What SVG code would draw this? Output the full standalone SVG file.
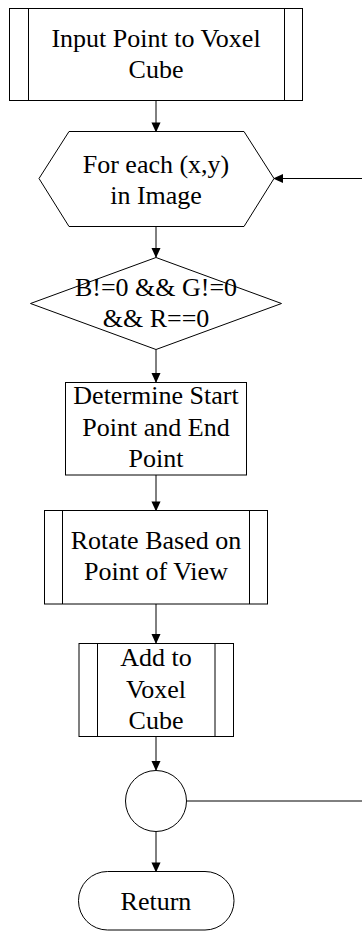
<svg xmlns="http://www.w3.org/2000/svg" width="362" height="933" viewBox="0 0 362 933">
<style>
.s{fill:#fff;stroke:#000;stroke-width:1}
.t{font-family:"Liberation Serif","Times New Roman",serif;font-size:26px;fill:#000;text-anchor:middle}
.c{fill:none;stroke:#000;stroke-width:1}
</style>
<defs>
<marker id="a" markerWidth="10" markerHeight="12" refX="10" refY="5" orient="auto" markerUnits="userSpaceOnUse" viewBox="0 0 11 10">
<path d="M0,0 L11,5 L0,10 Z" fill="#000"/>
</marker>
</defs>
<rect width="362" height="933" fill="#fff"/>
<g id="connectors">
<line class="c" x1="156" y1="100.5" x2="156" y2="131.5" marker-end="url(#a)"/>
<line class="c" x1="156" y1="226.5" x2="156" y2="257" marker-end="url(#a)"/>
<line class="c" x1="156" y1="349.5" x2="156" y2="382" marker-end="url(#a)"/>
<line class="c" x1="156" y1="475" x2="156" y2="510.5" marker-end="url(#a)"/>
<line class="c" x1="156" y1="604" x2="156" y2="643" marker-end="url(#a)"/>
<line class="c" x1="156" y1="736.5" x2="156" y2="770" marker-end="url(#a)"/>
<line class="c" x1="156" y1="831.5" x2="156" y2="871.5" marker-end="url(#a)"/>
<path class="c" d="M187,801 H370 V178.5 H274" marker-end="url(#a)"/>
</g>
<g id="input">
<rect class="s" x="9.5" y="8.5" width="293" height="92"/>
<line class="c" x1="28.5" y1="8.5" x2="28.5" y2="100.5"/>
<line class="c" x1="284.5" y1="8.5" x2="284.5" y2="100.5"/>
<text class="t" x="156" y="47">Input Point to Voxel</text>
<text class="t" x="156" y="78">Cube</text>
</g>
<g id="foreach">
<polygon class="s" points="39,178.5 69,131.5 244,131.5 274,178.5 244,226.5 69,226.5"/>
<text class="t" x="156" y="173">For each (x,y)</text>
<text class="t" x="156" y="204">in Image</text>
</g>
<g id="cond">
<polygon class="s" points="156,257.5 281.5,303.5 156,349.5 30.5,303.5"/>
<text class="t" x="156" y="296">B!=0 &amp;&amp; G!=0</text>
<text class="t" x="156" y="327">&amp;&amp; R==0</text>
</g>
<g id="determine">
<rect class="s" x="65.5" y="382.5" width="181" height="92.5"/>
<text class="t" x="156" y="404">Determine Start</text>
<text class="t" x="156" y="436">Point and End</text>
<text class="t" x="156" y="467">Point</text>
</g>
<g id="rotate">
<rect class="s" x="44.5" y="510.5" width="223" height="93.5"/>
<line class="c" x1="62.5" y1="510.5" x2="62.5" y2="604"/>
<line class="c" x1="249.5" y1="510.5" x2="249.5" y2="604"/>
<text class="t" x="156" y="549">Rotate Based on</text>
<text class="t" x="156" y="580">Point of View</text>
</g>
<g id="add">
<rect class="s" x="79" y="643.5" width="154.5" height="93"/>
<line class="c" x1="97.5" y1="643.5" x2="97.5" y2="736.5"/>
<line class="c" x1="215" y1="643.5" x2="215" y2="736.5"/>
<text class="t" x="156" y="666">Add to</text>
<text class="t" x="156" y="698">Voxel</text>
<text class="t" x="156" y="729">Cube</text>
</g>
<g id="junction">
<circle class="s" cx="156" cy="801" r="30.5"/>
</g>
<g id="return">
<rect class="s" x="78.5" y="871.5" width="155.5" height="58.5" rx="29" ry="29"/>
<text class="t" x="156" y="910">Return</text>
</g>
</svg>
